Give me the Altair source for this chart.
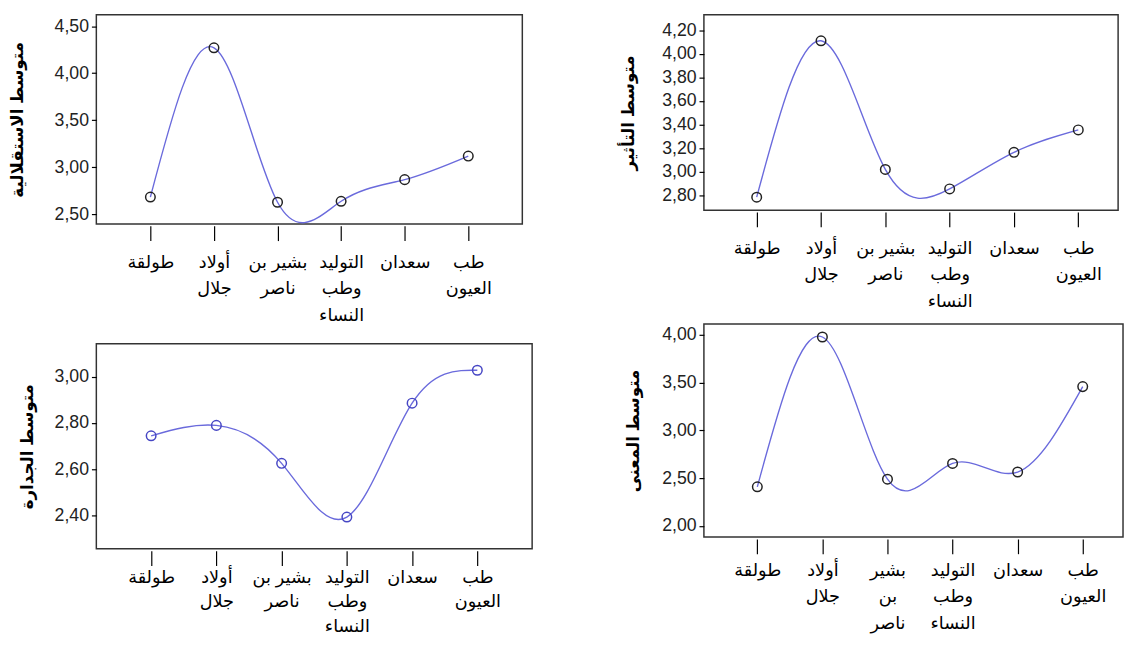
import altair as alt
import pandas as pd

categories = ["طولقة", "أولاد جلال", "بشير بن ناصر", "التوليد وطب النساء", "سعدان", "طب العيون"]

autonomy = [2.685, 4.27, 2.63, 2.64, 2.87, 3.12]
impact = [2.785, 4.11, 3.02, 2.855, 3.165, 3.355]
competence = [2.745, 2.79, 2.626, 2.394, 2.886, 3.028]
meaning = [2.41, 3.98, 2.49, 2.655, 2.565, 3.46]

titles = ["متوسط الاستقلالية", "متوسط التأثير", "متوسط الجدارة", "متوسط المعنى"]

ticks_autonomy = [2.5, 3.0, 3.5, 4.0, 4.5]
ticks_impact = [2.8, 3.0, 3.2, 3.4, 3.6, 3.8, 4.0, 4.2]
ticks_competence = [2.4, 2.6, 2.8, 3.0]
ticks_meaning = [2.0, 2.5, 3.0, 3.5, 4.0]

wrap_a = ["طولقة", "أولاد|جلال", "بشير بن|ناصر", "التوليد|وطب|النساء", "سعدان", "طب|العيون"]
wrap_b = ["طولقة", "أولاد|جلال", "بشير|بن|ناصر", "التوليد|وطب|النساء", "سعدان", "طب|العيون"]

FONT = "Liberation Sans, DejaVu Sans"
LINE = "#6a6adc"


def label_expr(wraps):
    parts = []
    for c, w in zip(categories, wraps):
        arr = "[" + ",".join("'" + s + "'" for s in w.split("|")) + "]"
        parts.append(f"datum.label == '{c}' ? {arr} : ")
    return "".join(parts) + "datum.label"


def panel(values, title, dom, ticks, width, height, extent, wraps, pcolor,
          xpad, xalign, lpad, lheight):
    df = pd.DataFrame({"cat": categories, "val": values})
    x = alt.X(
        "cat:N",
        sort=categories,
        scale=alt.Scale(type="point", padding=xpad, align=xalign),
        axis=alt.Axis(
            title=None, labelAngle=0, domain=False, tickSize=15, tickColor="black",
            tickWidth=1.2, offset=2, labelPadding=lpad, labelExpr=label_expr(wraps),
            labelBaseline="top", labelLineHeight=lheight, labelFontSize=18,
            labelColor="black", labelAlign="center", labelFont=FONT,
        ),
    )
    y = alt.Y(
        "val:Q",
        scale=alt.Scale(domain=dom, nice=False, zero=False),
        axis=alt.Axis(
            values=ticks, labelExpr="replace(format(datum.value, '.2f'), '.', ',')",
            tickSize=5, tickColor="black", tickWidth=1.2, domain=False, grid=False,
            labelFontSize=18, labelColor="#222", labelFont=FONT, labelPadding=3,
            title=title, titleX=-extent, titleY=height / 2, titleBaseline="top",
            titleAngle=270, titleFontWeight="bold", titleFontSize=17, titleFont=FONT,
            titleColor="black",
        ),
    )
    line = alt.Chart(df).mark_line(interpolate="natural", color=LINE, strokeWidth=1.4).encode(x=x, y=y)
    pts = alt.Chart(df).mark_point(
        shape="circle", size=95, filled=False, color=pcolor, strokeWidth=1.5, opacity=1
    ).encode(x=x, y=y)
    return alt.layer(line, pts).properties(width=width, height=height)


p1 = panel(autonomy, titles[0], [2.40, 4.62], ticks_autonomy, 434, 213, 88, wrap_a, "#222",
           0.85, 0.5, 13, 27)
p2 = panel(impact, titles[1], [2.675, 4.33], ticks_impact, 422, 199, 85, wrap_a, "#222",
           0.72, 0.57, 13, 27)
p3 = panel(competence, titles[2], [2.257, 3.143], ticks_competence, 444, 209, 78, wrap_a, "#4646c4",
           0.84, 0.5, 3, 25)
p4 = panel(meaning, titles[3], [1.884, 4.116], ticks_meaning, 427, 217, 80, wrap_b, "#222",
           0.72, 0.57, 8, 27)

left = alt.vconcat(p1, p3, spacing=18)
right = alt.vconcat(p2, p4, spacing=12)

chart = (
    alt.hconcat(left, right, spacing=87)
    .properties(padding={"left": 0, "top": 0, "right": 0, "bottom": 0}, background="white")
    .configure(font=FONT)
    .configure_view(stroke="#333", strokeWidth=1.5)
)

chart.save("out.html", embed_options={"renderer": "svg", "actions": False})
